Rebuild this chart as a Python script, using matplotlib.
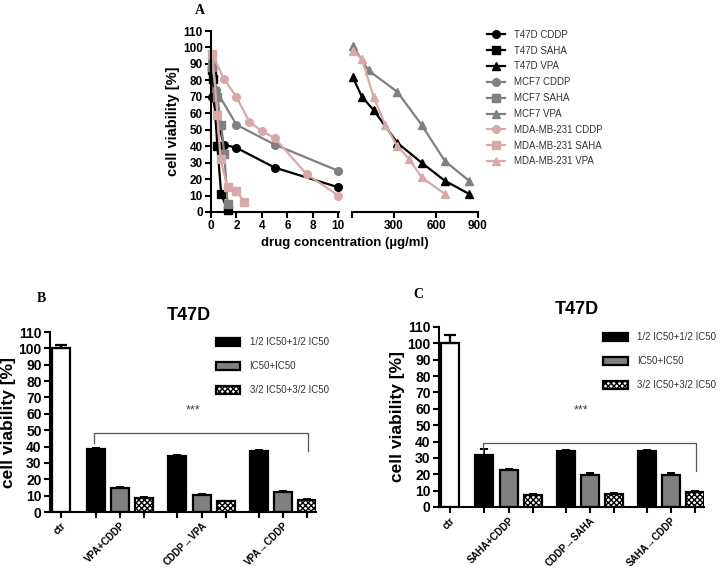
import numpy as np
import matplotlib
matplotlib.use("Agg")
import matplotlib.pyplot as plt
from matplotlib.lines import Line2D

plt.rcParams["font.family"] = ["Liberation Sans", "DejaVu Sans"]

# ---- Panel A: dose-response (low-dose drugs, 0-10 ug/ml) ----
t47d_cddp_x = [0.1, 1.0, 2.0, 5.0, 10.0]
t47d_cddp_y = [70, 41, 39, 27, 15]
t47d_saha_x = [0.05, 0.15, 0.5, 0.8, 1.3]
t47d_saha_y = [86, 81, 40, 11, 1]
mcf7_cddp_x = [0.1, 0.4, 2.0, 5.0, 10.0]
mcf7_cddp_y = [92, 74, 53, 41, 25]
mcf7_saha_x = [0.1, 0.5, 0.8, 1.05, 1.3]
mcf7_saha_y = [88, 70, 53, 35, 5]
mda_cddp_x = [0.1, 1.0, 2.0, 3.0, 4.0, 5.0, 7.5, 10.0]
mda_cddp_y = [96, 81, 70, 55, 49, 45, 23, 10]
mda_saha_x = [0.1, 0.5, 0.75, 1.3, 2.0, 2.6]
mda_saha_y = [96, 59, 32, 15, 13, 6]

# ---- Panel A: VPA (0-900 ug/ml) ----
t47d_vpa_x = [5, 71, 154, 324, 497, 663, 836]
t47d_vpa_y = [82, 70, 62, 42, 30, 19, 11]
mcf7_vpa_x = [5, 118, 324, 497, 663, 836]
mcf7_vpa_y = [101, 86, 73, 53, 31, 19]
mda_vpa_x = [5, 71, 154, 237, 324, 410, 497, 663]
mda_vpa_y = [98, 93, 70, 53, 40, 32, 21, 11]

# ---- Panels B / C: bar charts ----
series_names = ["1/2 IC50+1/2 IC50", "IC50+IC50", "3/2 IC50+3/2 IC50"]
ctr_val = 100

b_groups = ["VPA+CDDP", "CDDP\u2192VPA", "VPA\u2192CDDP"]
b_ctr_err = 2
b_vals = [[38.5, 34.5, 37.5], [14.5, 10.5, 12.2], [8.6, 6.5, 7.6]]
b_errs = [[0.6, 0.6, 0.6], [0.6, 0.5, 0.6], [0.7, 0.4, 0.4]]

c_groups = ["SAHA+CDDP", "CDDP\u2192SAHA", "SAHA\u2192CDDP"]
c_ctr_err = 5
c_vals = [[32, 34, 34], [22.5, 19.5, 19.5], [7.5, 8, 9]]
c_errs = [[3.5, 0.8, 0.8], [0.8, 1.5, 1.0], [0.6, 0.5, 0.5]]

BLACK = "#000000"
GREY = "#808080"
PINK = "#d9a9a9"

W, H = 728, 571
fig = plt.figure(figsize=(W / 100, H / 100), dpi=100)


def ax_at(x0, y0, x1, y1):
    # pixel box -> figure axes
    return fig.add_axes([x0 / W, 1 - y1 / H, (x1 - x0) / W, (y1 - y0) / H])


def style_axes(ax, lw=1.5):
    for s in ["top", "right"]:
        ax.spines[s].set_visible(False)
    for s in ["left", "bottom"]:
        ax.spines[s].set_linewidth(lw)
    ax.tick_params(width=lw, length=4, direction="out", pad=2)


tick_font = dict(fontsize=8.5, fontweight="bold")

# ----------------- Panel A -----------------
axl = ax_at(211, 31, 339, 212)
axr = ax_at(352, 31, 478, 212)
for ax in (axl, axr):
    style_axes(ax)
    ax.set_ylim(0, 110)

axr.spines["left"].set_visible(False)
axr.tick_params(axis="y", left=False, labelleft=False)

mk = dict(markersize=5.5, lw=1.6, clip_on=False)
axl.plot(t47d_cddp_x, t47d_cddp_y, "-o", color=BLACK, **mk)
axl.plot(t47d_saha_x, t47d_saha_y, "-s", color=BLACK, **mk)
axl.plot(mcf7_cddp_x, mcf7_cddp_y, "-o", color=GREY, **mk)
axl.plot(mcf7_saha_x, mcf7_saha_y, "-s", color=GREY, **mk)
axl.plot(mda_cddp_x, mda_cddp_y, "-o", color=PINK, **mk)
axl.plot(mda_saha_x, mda_saha_y, "-s", color=PINK, **mk)
axr.plot(t47d_vpa_x, t47d_vpa_y, "-^", color=BLACK, **mk)
axr.plot(mcf7_vpa_x, mcf7_vpa_y, "-^", color=GREY, **mk)
axr.plot(mda_vpa_x, mda_vpa_y, "-^", color=PINK, **mk)

axl.set_xlim(0, 10.05)
axl.set_xticks([0, 2, 4, 6, 8, 10])
axl.set_yticks(range(0, 111, 10))
axl.set_xticklabels([0, 2, 4, 6, 8, 10], **tick_font)
axl.set_yticklabels(range(0, 111, 10), **tick_font)
axl.set_ylabel("cell viability [%]", fontsize=10.5, fontweight="bold", labelpad=2)

axr.set_xlim(0, 900)
axr.set_xticks([0, 300, 600, 900])
axr.set_xticklabels(["", "300", "600", "900"], **tick_font)

fig.text(345 / W, 1 - 243 / H, "drug concentration (\u00b5g/ml)",
         ha="center", va="center", fontsize=9.5, fontweight="bold")

leg_items = [
    ("T47D CDDP", BLACK, "o"), ("T47D SAHA", BLACK, "s"), ("T47D VPA", BLACK, "^"),
    ("MCF7 CDDP", GREY, "o"), ("MCF7 SAHA", GREY, "s"), ("MCF7 VPA", GREY, "^"),
    ("MDA-MB-231 CDDP", PINK, "o"), ("MDA-MB-231 SAHA", PINK, "s"),
    ("MDA-MB-231 VPA", PINK, "^"),
]
handles = [Line2D([], [], color=c, marker=m, markersize=5.5, lw=1.6, label=l)
           for l, c, m in leg_items]
fig.legend(handles=handles, loc="upper left", bbox_to_anchor=(478 / W, 1 - 21 / H),
           frameon=False, fontsize=7, handlelength=1.9, labelspacing=0.6,
           handletextpad=0.9, labelcolor="#333333")

fig.text(195 / W, 1 - 11 / H, "A", fontsize=10, fontweight="bold",
         family="Liberation Serif", ha="left", va="center")

# ----------------- Panels B / C -----------------
group_start = [1.42, 4.77, 8.1]
offsets = [0, 1.0, 1.98]
bar_w = 0.74
bar_colors = [BLACK, GREY, "white"]
hatches = [None, None, "xxxxxx"]


def bar_panel(box, label, label_xy, groups, vals, errs, ctr_err, bracket, star_y):
    ax = ax_at(*box)
    style_axes(ax)
    ax.bar(0, ctr_val, width=bar_w, color="white", edgecolor="black", lw=1.6,
           yerr=[[0], [ctr_err]], capsize=4, error_kw=dict(lw=1.6, capthick=1.6))
    ticks = [0]
    for s in range(3):
        xs = [group_start[g] + offsets[s] for g in range(3)]
        ticks += xs
        ax.bar(xs, vals[s], width=bar_w, color=bar_colors[s], edgecolor="black",
               lw=1.6, hatch=hatches[s], label=series_names[s],
               yerr=[[0] * 3, errs[s]], capsize=3,
               error_kw=dict(lw=1.4, capthick=1.4))
    ax.set_xlim(-0.45, 10.45)
    ax.set_ylim(0, 110)
    ax.set_yticks(range(0, 111, 10))
    ax.set_yticklabels(range(0, 111, 10), fontsize=10, fontweight="bold")
    ax.set_xticks(sorted(ticks))
    lab_map = {0: "ctr"}
    for g in range(3):
        lab_map[group_start[g] + offsets[1]] = groups[g]
    ax.set_xticklabels([lab_map.get(t, "") for t in sorted(ticks)], rotation=45,
                       ha="right", rotation_mode="anchor", fontsize=7,
                       fontweight="bold")
    ax.set_ylabel("cell viability [%]", fontsize=12.5, fontweight="bold", labelpad=2)
    ax.set_title("T47D", fontsize=13, fontweight="bold", pad=9, x=0.52)

    top, ldrop, rdrop = bracket
    x0 = group_start[0] - 0.05
    x1 = group_start[2] + offsets[2] + 0.05
    ax.plot([x0, x0, x1, x1], [ldrop, top, top, rdrop], color="#555555", lw=0.9)
    ax.text((x0 + x1) / 2 - 0.35, star_y, "***", ha="center", va="center",
            fontsize=9, color="#444444")

    ax.legend(loc="upper right", bbox_to_anchor=(1.08, 1.02), frameon=False,
              fontsize=7, labelspacing=1.45, handlelength=2.5, handleheight=0.9,
              handletextpad=1.0, labelcolor="#333333")
    fig.text(label_xy[0] / W, 1 - label_xy[1] / H, label, fontsize=10,
             fontweight="bold", family="Liberation Serif", ha="left", va="center")
    return ax


bar_panel((50, 332, 316, 512), "B", (37, 299), b_groups, b_vals, b_errs,
          b_ctr_err, (48, 42, 37), 62)
bar_panel((439, 327, 704, 507), "C", (413, 294), c_groups, c_vals, c_errs,
          c_ctr_err, (39, 33, 22), 59)

fig.savefig("out.png", dpi=100)
